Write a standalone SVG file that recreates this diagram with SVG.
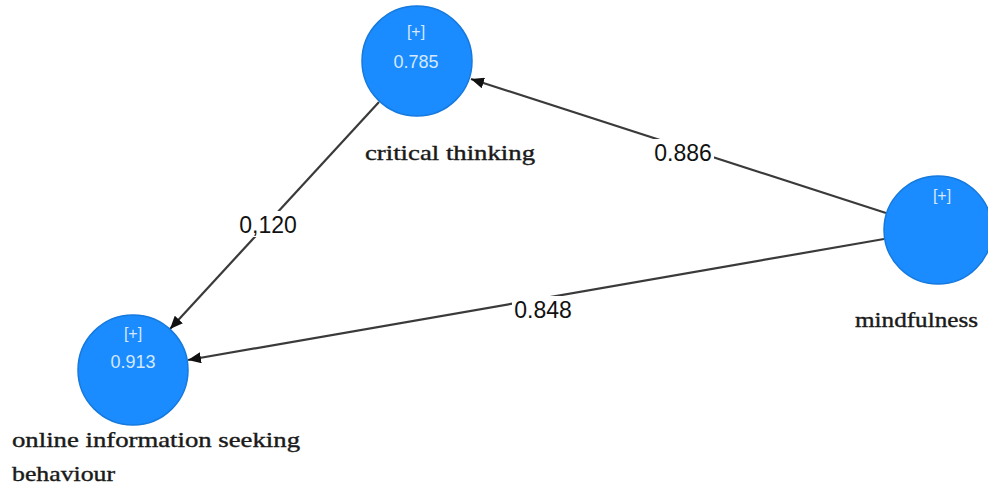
<svg xmlns="http://www.w3.org/2000/svg" width="988" height="488" viewBox="0 0 988 488">
<style>
.node{fill:#1a8cff;stroke:#1579de;stroke-width:1.5}
.in{font-family:"Liberation Sans",Arial,sans-serif;fill:#d4e8ff;text-anchor:middle}
.lbl{font-family:"Liberation Serif","Times New Roman",serif;font-size:22px;fill:#1a1a1a;stroke:#1a1a1a;stroke-width:0.4}
.edge{stroke:#3a3a3a;stroke-width:2.2;fill:none;marker-end:url(#ah)}
.el{font-family:"Liberation Sans",Arial,sans-serif;font-size:23px;fill:#111;text-anchor:middle}
</style>
<defs>
<marker id="ah" viewBox="0 0 13 11" refX="13" refY="5.5" markerWidth="13" markerHeight="11" markerUnits="userSpaceOnUse" orient="auto">
<path d="M0,0 L13,5.5 L0,11 z" fill="#111"/>
</marker>
</defs>
<rect width="988" height="488" fill="#fff"/>
<g id="connectors">
<line class="edge" x1="379" y1="102" x2="170" y2="329"/>
<line class="edge" x1="886" y1="213" x2="471" y2="79"/>
<line class="edge" x1="884" y1="239" x2="188" y2="360"/>
<rect x="237" y="211" width="62" height="26" fill="#fff"/>
<text class="el" x="268" y="233">0,120</text>
<rect x="652" y="139" width="62" height="26" fill="#fff"/>
<text class="el" x="683" y="161">0.886</text>
<rect x="512" y="296" width="62" height="26" fill="#fff"/>
<text class="el" x="543" y="318">0.848</text>
</g>
<g id="critical-thinking">
<circle class="node" cx="417" cy="61" r="55"/>
<text class="in" x="416" y="37" font-size="16">[+]</text>
<text class="in" x="416" y="68" font-size="18">0.785</text>
<text class="lbl" x="365" y="160" textLength="170" lengthAdjust="spacingAndGlyphs">critical thinking</text>
</g>
<g id="mindfulness">
<circle class="node" cx="938" cy="230" r="54"/>
<text class="in" x="942" y="201" font-size="16">[+]</text>
<text class="lbl" x="855" y="327" textLength="123" lengthAdjust="spacingAndGlyphs">mindfulness</text>
</g>
<g id="online-information-seeking-behaviour">
<circle class="node" cx="133" cy="370" r="55"/>
<text class="in" x="133" y="339" font-size="16">[+]</text>
<text class="in" x="133" y="368" font-size="18">0.913</text>
<text class="lbl" x="12" y="447" textLength="288" lengthAdjust="spacingAndGlyphs">online information seeking</text>
<text class="lbl" x="12" y="481" textLength="103" lengthAdjust="spacingAndGlyphs">behaviour</text>
</g>
</svg>
